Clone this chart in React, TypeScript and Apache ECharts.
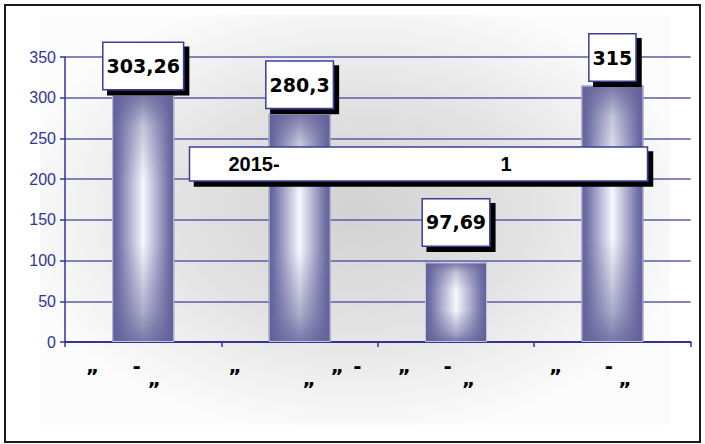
import React, { useEffect, useRef } from 'react';
import * as echarts from 'echarts';

// ---- data ----
const categories = ['„ - „', '„ „ - „', '„ - „', '„ - „'];
// glyphs of each category label: line 1 and line 2
const labelLine1 = [['„', '-'], ['„', '„', '-'], ['„', '-'], ['„', '-']];
const labelLine2 = [['„'], ['„'], ['„'], ['„']];
const values = [303.26, 280.3, 97.69, 315];
const yMin = 0;
const yMax = 350;
const yInterval = 50;
const titleParts = ['2015-', '1'];

// ---- layout (glyph centres relative to category centre, px) ----
const line1Offsets = [[-50.6, -6.6], [-64.6, 37.8, 57.8], [-51.8, -8.4], [-56.7, -3.4]];
const line2Offsets = [[11.1], [9.4], [12.7], [12.6]];
const labelDistances = [6, 6, 17, 5];

const GLYPH_FONT = 20;
const glyphAdvance: Record<string, number> = { '„': 0.548 * GLYPH_FONT, '-': 0.415 * GLYPH_FONT };
const HALF = 90;

const rich: Record<string, any> = {
  g: { fontFamily: 'DejaVu Sans', fontWeight: 'bold', fontSize: GLYPH_FONT, lineHeight: 13, color: '#000' },
};

function buildLine(glyphs: string[], offsets: number[]): string {
  let pos = -HALF;
  let out = '';
  glyphs.forEach((gl, i) => {
    const adv = glyphAdvance[gl] ?? 8;
    const start = offsets[i] - adv / 2;
    const gap = Math.max(0.1, start - pos);
    const key = 'w' + Math.round(gap * 10);
    rich[key] = { width: Math.round(gap * 10) / 10, lineHeight: 13, fontSize: GLYPH_FONT };
    out += `{${key}|}`;
    const gk = 'g' + Math.round(adv * 10);
    rich[gk] = { ...rich.g, width: Math.round(adv * 10) / 10 };
    out += `{${gk}|${gl}}`;
    pos = start + Math.round(adv * 10) / 10;
  });
  const end = Math.max(0.1, HALF - pos);
  const key = 'w' + Math.round(end * 10);
  rich[key] = { width: Math.round(end * 10) / 10, lineHeight: 13, fontSize: GLYPH_FONT };
  out += `{${key}|}`;
  return out;
}

const xLabelStrings = categories.map((_, i) =>
  buildLine(labelLine1[i], line1Offsets[i]) + '\n' + buildLine(labelLine2[i], line2Offsets[i])
);

const NAVY = '#333399';

export default function App() {
  const ref = useRef<HTMLDivElement>(null);
  useEffect(() => {
    if (!ref.current) return;
    const chart = echarts.init(ref.current, undefined, { renderer: 'svg' });
    const barBase = new echarts.graphic.LinearGradient(0, 0, 1, 0, [
      { offset: 0, color: '#5e5e98' },
      { offset: 0.1, color: '#7474aa' },
      { offset: 0.5, color: '#f8f8fc' },
      { offset: 0.9, color: '#7474aa' },
      { offset: 1, color: '#5e5e98' },
    ]);
    const barOverlay = new echarts.graphic.LinearGradient(0, 0, 0, 1, [
      { offset: 0, color: 'rgba(98,98,154,0.85)' },
      { offset: 0.12, color: 'rgba(98,98,154,0.35)' },
      { offset: 0.35, color: 'rgba(98,98,154,0)' },
      { offset: 0.6, color: 'rgba(98,98,154,0)' },
      { offset: 0.88, color: 'rgba(98,98,154,0.5)' },
      { offset: 1, color: 'rgba(98,98,154,0.85)' },
    ]);
    chart.setOption({
      animation: false,
      backgroundColor: '#ffffff',
      graphic: [
        {
          type: 'rect',
          z: -10,
          silent: true,
          shape: { x: 40, y: 15, width: 630, height: 410 },
          style: {
            fill: new echarts.graphic.RadialGradient(0.5, 0.48, 0.55, [
              { offset: 0, color: '#d2d2d2' },
              { offset: 0.5, color: '#e2e2e2' },
              { offset: 1, color: '#fcfcfc' },
            ]),
          },
        },
        {
          type: 'rect',
          z: 100,
          silent: true,
          shape: { x: 5, y: 5, width: 695, height: 437 },
          style: { fill: 'none', stroke: '#1a1a1a', lineWidth: 2 },
        },
      ],
      title: {
        text: `{a|${titleParts[0]}}{b|${titleParts[1]}}`,
        left: 189,
        top: 145,
        padding: [7, 136, 7, 39.5],
        backgroundColor: '#ffffff',
        borderColor: '#3c3c96',
        borderWidth: 1.5,
        shadowColor: '#000000',
        shadowBlur: 0,
        shadowOffsetX: 5,
        shadowOffsetY: 5,
        textStyle: {
          rich: {
            a: { width: 272, fontFamily: 'Liberation Sans', fontWeight: 'bold', fontSize: 20, lineHeight: 24, color: '#000' },
            b: { fontFamily: 'Liberation Sans', fontWeight: 'bold', fontSize: 20, lineHeight: 24, color: '#000' },
          },
        },
      },
      grid: { left: 65, right: 11, top: 57, bottom: 102, containLabel: false },
      xAxis: {
        type: 'category',
        data: categories,
        axisLine: { show: true, lineStyle: { color: NAVY, width: 2 } },
        axisTick: { show: true, length: 5, lineStyle: { color: NAVY, width: 1.5 } },
        axisLabel: {
          interval: 0,
          margin: 17,
          hideOverlap: false,
          formatter: (_v: string, i: number) => xLabelStrings[i],
          rich,
        },
        splitLine: { show: false },
      },
      yAxis: {
        type: 'value',
        min: yMin,
        max: yMax,
        interval: yInterval,
        axisLine: { show: true, lineStyle: { color: NAVY, width: 1.5 } },
        axisTick: { show: true, length: 5, lineStyle: { color: NAVY, width: 1.5 } },
        axisLabel: { margin: 9, color: NAVY, fontFamily: 'Liberation Sans', fontSize: 16 },
        splitLine: { show: true, lineStyle: { color: '#5c5ca6', width: 1.5 } },
      },
      series: [
        {
          type: 'bar',
          data: values,
          barWidth: 62,
          itemStyle: { color: barBase },
          z: 2,
        },
        {
          type: 'bar',
          data: values.map((v, i) => ({ value: v, label: { distance: labelDistances[i] } })),
          barWidth: 62,
          barGap: '-100%',
          z: 3,
          itemStyle: { color: barOverlay, borderColor: '#c4c4dc', borderWidth: 1 },
          label: {
            show: true,
            position: 'top',
            formatter: (p: any) => String(p.value).replace('.', ','),
            fontFamily: 'DejaVu Sans',
            fontWeight: 'bold',
            fontSize: 19,
            lineHeight: 22,
            color: '#000',
            backgroundColor: '#ffffff',
            borderColor: '#3c3c96',
            borderWidth: 1.5,
            padding: [12, 3, 12, 3],
            shadowColor: '#000000',
            shadowBlur: 0,
            shadowOffsetX: 5,
            shadowOffsetY: 5,
          },
        },
      ],
    });
    return () => chart.dispose();
  }, []);
  return <div ref={ref} style={{ position: 'fixed', left: 0, top: 0, width: 705, height: 444 }} />;
}
